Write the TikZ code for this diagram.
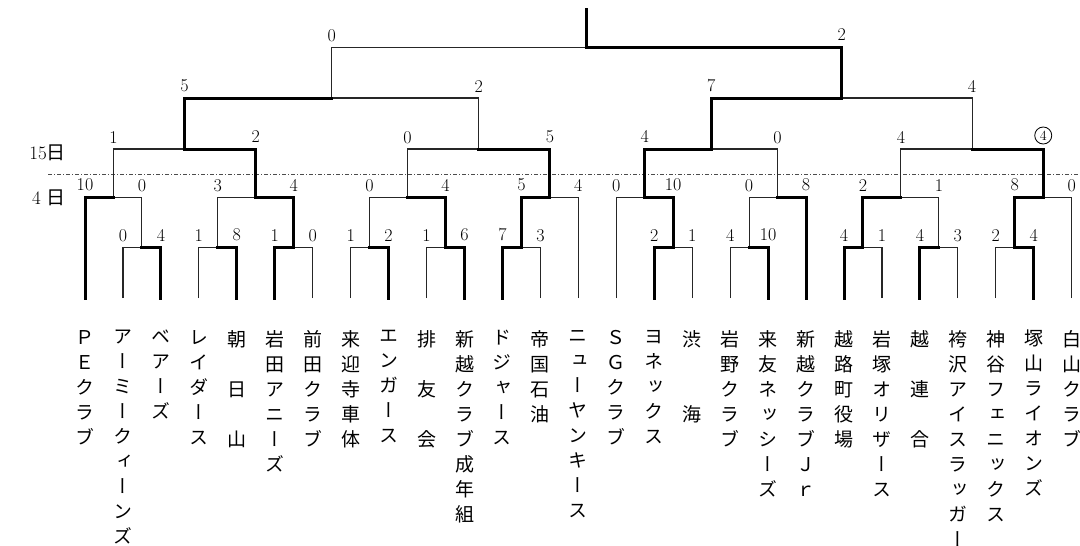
\documentclass[tikz,border=0pt]{standalone}
\usepackage{fontspec}
\newfontfamily\jp{Noto Sans CJK JP}
\newfontfamily\jpv[RawFeature=+vert]{Noto Sans CJK JP}
\begin{document}
\begin{tikzpicture}[x=1pt,y=-1pt,
  lose/.style={line width=1.1pt,draw=black!85},
  win/.style={line width=3pt,draw=black,line cap=rect,line join=miter},
  score/.style={anchor=south,inner sep=0pt,yshift=5pt,font=\fontsize{18}{19}\selectfont},
  circscore/.style={circle,draw,line width=0.8pt,inner sep=0pt,minimum size=17pt,font=\fontsize{14}{15}\selectfont},
  team/.style={anchor=north,align=center,inner sep=0pt,font={\jpv\fontsize{19}{25}\selectfont}},
  daylabel/.style={anchor=east,inner sep=0pt,font=\fontsize{19}{20}\selectfont},
  daydash/.style={line width=0.9pt,draw=black!70,dash pattern=on 4pt off 2pt on 1pt off 2pt}]
\fill[white] (0,0) rectangle (1080,546);
\useasboundingbox (0,0) rectangle (1080,546);
% leaves
\foreach \i in {0,...,26} \coordinate (L\i) at ({85+37.95*\i},298);
% round 1
\coordinate (a12) at (141.925,247.5);
\coordinate (a34) at (217.825,247.5);
\coordinate (a56) at (293.725,247.5);
\coordinate (a78) at (369.625,247.5);
\coordinate (a910) at (445.525,247.5);
\coordinate (a1112) at (521.425,247.5);
\coordinate (a1516) at (673.225,247.5);
\coordinate (a1718) at (749.125,247.5);
\coordinate (a2021) at (862.975,247.5);
\coordinate (a2223) at (938.875,247.5);
\coordinate (a2425) at (1014.775,247.5);
% round 2
\coordinate (b1) at (113.46,197.5);
\coordinate (b2) at (255.775,197.5);
\coordinate (b3) at (407.575,197.5);
\coordinate (b4) at (549.89,197.5);
\coordinate (b5) at (644.76,197.5);
\coordinate (b6) at (777.59,197.5);
\coordinate (b7) at (900.925,197.5);
\coordinate (b8) at (1043.24,197.5);
% round 3
\coordinate (c1) at (184.62,149);
\coordinate (c2) at (478.73,149);
\coordinate (c3) at (711.18,149);
\coordinate (c4) at (972.08,149);
% round 4
\coordinate (d1) at (331.67,98);
\coordinate (d2) at (841.63,98);
% final
\coordinate (e) at (586.65,47.5);
\coordinate (top) at (586.65,9);
% day separator
\coordinate (dl) at (48,174);
\coordinate (dr) at (1080,174);
\draw[daydash] (dl) -- (dr);
\node[daylabel] (day15) at (66,153) {15{\jp 日}};
\node[daylabel] (day4) at (66,198) {4\hspace{6pt}{\jp 日}};
% losers (thin)
\draw[lose] (L1) |- node[score]{0} (a12);
\draw[lose] (L3) |- node[score]{1} (a34);
\draw[lose] (L6) |- node[score]{0} (a56);
\draw[lose] (L7) |- node[score]{1} (a78);
\draw[lose] (L9) |- node[score]{1} (a910);
\draw[lose] (L12) |- node[score]{3} (a1112);
\draw[lose] (L16) |- node[score]{1} (a1516);
\draw[lose] (L17) |- node[score]{4} (a1718);
\draw[lose] (L21) |- node[score]{1} (a2021);
\draw[lose] (L23) |- node[score]{3} (a2223);
\draw[lose] (L24) |- node[score]{2} (a2425);
\draw[lose] (a12) |- node[score]{0} (b1);
\draw[lose] (a34) |- node[score]{3} (b2);
\draw[lose] (a78) |- node[score]{0} (b3);
\draw[lose] (L13) |- node[score]{4} (b4);
\draw[lose] (L14) |- node[score]{0} (b5);
\draw[lose] (a1718) |- node[score]{0} (b6);
\draw[lose] (a2223) |- node[score]{1} (b7);
\draw[lose] (L26) |- node[score]{0} (b8);
\draw[lose] (b1) |- node[score]{1} (c1);
\draw[lose] (b3) |- node[score]{0} (c2);
\draw[lose] (b6) |- node[score]{0} (c3);
\draw[lose] (b7) |- node[score]{4} (c4);
\draw[lose] (c2) |- node[score]{2} (d1);
\draw[lose] (c4) |- node[score]{4} (d2);
\draw[lose] (d1) |- node[score]{0} (e);
% winners (thick)
\draw[win] (L2) |- node[score]{4} (a12);
\draw[win] (L4) |- node[score]{8} (a34);
\draw[win] (L5) |- node[score]{1} (a56);
\draw[win] (L8) |- node[score]{2} (a78);
\draw[win] (L10) |- node[score]{6} (a910);
\draw[win] (L11) |- node[score]{7} (a1112);
\draw[win] (L15) |- node[score]{2} (a1516);
\draw[win] (L18) |- node[score]{10} (a1718);
\draw[win] (L20) |- node[score]{4} (a2021);
\draw[win] (L22) |- node[score]{4} (a2223);
\draw[win] (L25) |- node[score]{4} (a2425);
\draw[win] (L0) |- node[score]{10} (b1);
\draw[win] (a56) |- node[score]{4} (b2);
\draw[win] (a910) |- node[score]{4} (b3);
\draw[win] (a1112) |- node[score]{5} (b4);
\draw[win] (a1516) |- node[score]{10} (b5);
\draw[win] (L19) |- node[score]{8} (b6);
\draw[win] (a2021) |- node[score]{2} (b7);
\draw[win] (a2425) |- node[score]{8} (b8);
\draw[win] (b2) |- node[score]{2} (c1);
\draw[win] (b4) |- node[score]{5} (c2);
\draw[win] (b5) |- node[score]{4} (c3);
\draw[win] (b8) |- node[circscore,yshift=13.5pt]{4} (c4);
\draw[win] (c1) |- node[score]{5} (d1);
\draw[win] (c3) |- node[score]{7} (d2);
\draw[win] (d2) |- node[score]{2} (e);
\draw[win] (e) -- (top);
% team names
\node[team] (t0) at (L0 |- 0,330) {Ｐ\\Ｅ\\ク\\ラ\\ブ};
\node[team] (t1) at (L1 |- 0,330) {ア\\ー\\ミ\\ー\\ク\\ィ\\ー\\ン\\ズ};
\node[team] (t2) at (L2 |- 0,330) {ベ\\ア\\ー\\ズ};
\node[team] (t3) at (L3 |- 0,330) {レ\\イ\\ダ\\ー\\ス};
\node[team] (t4) at (L4 |- 0,330) {朝\\\mbox{}\\日\\\mbox{}\\山};
\node[team] (t5) at (L5 |- 0,330) {岩\\田\\ア\\ニ\\ー\\ズ};
\node[team] (t6) at (L6 |- 0,330) {前\\田\\ク\\ラ\\ブ};
\node[team] (t7) at (L7 |- 0,330) {来\\迎\\寺\\車\\体};
\node[team] (t8) at (L8 |- 0,330) {エ\\ン\\ガ\\ー\\ス};
\node[team] (t9) at (L9 |- 0,330) {排\\\mbox{}\\友\\\mbox{}\\会};
\node[team] (t10) at (L10 |- 0,330) {新\\越\\ク\\ラ\\ブ\\成\\年\\組};
\node[team] (t11) at (L11 |- 0,330) {ド\\ジ\\ャ\\ー\\ス};
\node[team] (t12) at (L12 |- 0,330) {帝\\国\\石\\油};
\node[team] (t13) at (L13 |- 0,330) {ニ\\ュ\\ー\\ヤ\\ン\\キ\\ー\\ス};
\node[team] (t14) at (L14 |- 0,330) {Ｓ\\Ｇ\\ク\\ラ\\ブ};
\node[team] (t15) at (L15 |- 0,330) {ヨ\\ネ\\ッ\\ク\\ス};
\node[team] (t16) at (L16 |- 0,330) {渋\\\mbox{}\\\mbox{}\\海};
\node[team] (t17) at (L17 |- 0,330) {岩\\野\\ク\\ラ\\ブ};
\node[team] (t18) at (L18 |- 0,330) {来\\友\\ネ\\ッ\\シ\\ー\\ズ};
\node[team] (t19) at (L19 |- 0,330) {新\\越\\ク\\ラ\\ブ\\Ｊ\\ｒ};
\node[team] (t20) at (L20 |- 0,330) {越\\路\\町\\役\\場};
\node[team] (t21) at (L21 |- 0,330) {岩\\塚\\オ\\リ\\ザ\\ー\\ス};
\node[team] (t22) at (L22 |- 0,330) {越\\\mbox{}\\連\\\mbox{}\\合};
\node[team] (t23) at (L23 |- 0,330) {袴\\沢\\ア\\イ\\ス\\ラ\\ッ\\ガ\\ー};
\node[team] (t24) at (L24 |- 0,330) {神\\谷\\フ\\ェ\\ニ\\ッ\\ク\\ス};
\node[team] (t25) at (L25 |- 0,330) {塚\\山\\ラ\\イ\\オ\\ン\\ズ};
\node[team] (t26) at (L26 |- 0,330) {白\\山\\ク\\ラ\\ブ};
\end{tikzpicture}
\end{document}
